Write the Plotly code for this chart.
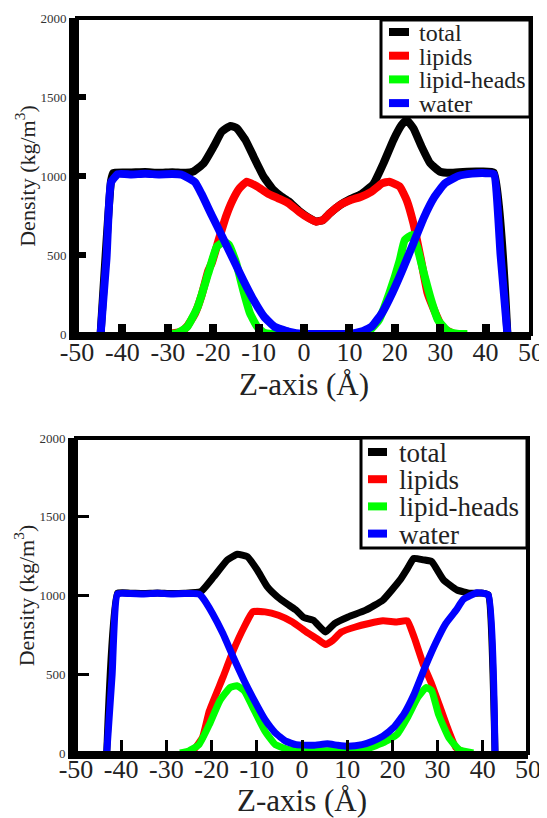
import plotly.graph_objects as go

# ---------------- data (top panel) ----------------
z_tot_top = [-44.8, -42.5, -42, -38, -35, -32, -29, -26, -24.3, -22.1, -19.9, -18.1, -16.2, -14.8, -12.9,
             -11.1, -8.9, -6.7, -5, -3.4, -1.1, 1.1, 2.7, 4.2, 5.7, 8, 10.3, 12.6, 15.3, 17.5, 19.7, 21.5,
             22.6, 24.1, 25.9, 27.8, 30, 32.2, 35, 38, 41.8, 44.8]
tot_top = [0, 970, 1020, 1022, 1025, 1020, 1024, 1020, 1030, 1080, 1186, 1281, 1317, 1302, 1228,
           1122, 996, 911, 870, 840, 780, 735, 712, 722, 764, 817, 855, 885, 950, 1080, 1228, 1323,
           1355, 1302, 1186, 1080, 1027, 1020, 1025, 1028, 1022, 0]

z_lip_top = [-30, -27, -25.7, -24, -22.6, -21.1, -20.3, -18.8, -17.2, -15.7, -14.2, -12.6, -10.3, -8, -5.7,
             -3.4, -1.1, 1.1, 2.7, 4.2, 5.7, 8, 10.3, 12.6, 14.9, 17.2, 18.8, 21.1, 22.6, 24.1, 25.7, 27.2,
             28.7, 30.5, 33]
lip_top = [0, 15, 50, 130, 240, 400, 450, 595, 743, 848, 922, 964, 933, 890, 859,
           827, 774, 732, 711, 722, 764, 817, 848, 869, 901, 954, 964, 933, 848, 700, 480, 260,
           150, 40, 0]

z_head_top = [-30, -28, -25.7, -23.4, -21.1, -19.2, -17.6, -16.5, -14.9, -13.4, -11.9, -10.3, -8.8, -7,
              -4, 12, 14.2, 16.5, 18.8, 21.1, 22.2, 23.8, 24.9, 26.4, 28, 29.5, 31.8, 34.1, 36]
head_top = [0, 4, 46, 173, 384, 553, 584, 563, 447, 279, 131, 46, 8, 0,
            0, 0, 15, 89, 257, 468, 595, 627, 553, 384, 215, 89, 15, 0, 0]

z_wat_top = [-44.8, -43.5, -42.5, -41, -38, -35, -32, -29, -27, -25.7, -24, -22.6, -20.3, -18, -15.7,
             -13.4, -11.1, -8.8, -6.5, -3.4, 0, 5, 10, 12.6, 14.9, 17.2, 19.5, 21.8, 24.1, 26.4, 28.7,
             31, 34, 37, 40, 41.8, 43.3, 44.8]
wat_top = [0, 480, 960, 1012, 1010, 1014, 1010, 1012, 1008, 990, 960, 888, 750, 616, 479,
           342, 215, 110, 46, 15, 0, 0, 0, 15, 47, 134, 263, 414, 575, 737, 866,
           952, 1000, 1015, 1018, 1012, 500, 0]

# ---------------- data (bottom panel) ----------------
z_tot_bot = [-43.2, -40.8, -38, -35, -32, -29, -26, -22.4, -19.5, -16.5, -14.3, -12.1, -9.9, -7.7, -5.5,
             -3, -1.3, 0.4, 2.5, 5.2, 7.2, 10.2, 14.1, 17.9, 21.7, 23.5, 24.7, 26.9, 28.7, 31.3, 34.3,
             37.2, 40, 41.2, 42.7]
tot_bot = [0, 1015, 1015, 1013, 1016, 1012, 1014, 1024, 1120, 1226, 1262, 1247, 1162, 1056, 993,
           940, 907, 860, 843, 768, 822, 864, 907, 971, 1099, 1180, 1236, 1226, 1215, 1099, 1035,
           1014, 1015, 1005, 0]

z_lip_bot = [-26, -24, -22, -20.5, -17.5, -15.2, -12.8, -10.9, -8.2, -5.2, -2.1, 1.0, 3.3, 5.2, 6.8,
             8.7, 11.8, 14.8, 17.9, 21.0, 23.3, 24.8, 26.8, 28.7, 30.6, 32.2, 34.1, 36.4]
lip_bot = [0, 20, 100, 267, 480, 651, 800, 896, 896, 875, 832, 768, 726, 689, 715,
           768, 800, 822, 839, 832, 839, 736, 565, 437, 288, 160, 32, 0]

z_head_bot = [-27, -25.2, -22.8, -20.5, -18.2, -15.9, -14.4, -12.8, -10.5, -8.2, -5.9, -2.8, 2.5, 10.2,
              14.8, 17.9, 21, 23.3, 25.6, 27.5, 28.7, 30.2, 32.5, 34.8, 37.9]
head_bot = [0, 11, 53, 181, 331, 416, 427, 395, 267, 139, 53, 21, 15, 21,
            32, 64, 117, 224, 352, 416, 395, 245, 96, 21, 0]

z_wat_bot = [-43.2, -42, -40.8, -38, -35, -32, -29, -26, -22.8, -22.1, -19.8, -17.5, -15.2, -12.8, -10.5,
             -8.2, -5.9, -3.6, -1.3, 2.5, 5.6, 7.9, 10.2, 13.3, 15.6, 17.9, 20.2, 22.5, 24.8, 27.2,
             29.5, 31.8, 34.1, 35.7, 38.7, 41.2, 42.7]
wat_bot = [0, 500, 1010, 1012, 1010, 1014, 1010, 1012, 1010, 990, 886, 758, 608, 459, 331,
           213, 128, 75, 53, 49, 58, 49, 43, 53, 75, 107, 160, 245, 373, 544,
           694, 822, 907, 975, 1018, 1003, 0]

names = ["total", "lipids", "lipid-heads", "water"]
colors = ["#000000", "#ff0000", "#00ff00", "#0000ff"]

x_ticks = list(range(-50, 51, 10))
y_ticks = [0, 500, 1000, 1500, 2000]

FONT = "Liberation Serif, Times New Roman, Times, serif"
# the page body has an 8px margin, so the figure is drawn 8px in from the window edges
OFF = 8
W, H = 547 - OFF, 818 - OFF

fig = go.Figure()

panels = [
    dict(xa="x", ya="y", lw=8,
         series=[(z_tot_top, tot_top), (z_lip_top, lip_top), (z_head_top, head_top), (z_wat_top, wat_top)],
         box=(381, 530, 20, 117), sym=(389, 409), tx=417, ry=32, step=23.7, fs=24),
    dict(xa="x2", ya="y2", lw=7,
         series=[(z_tot_bot, tot_bot), (z_lip_bot, lip_bot), (z_head_bot, head_bot), (z_wat_bot, wat_bot)],
         box=(361, 527, 438, 548), sym=(368, 387), tx=397, ry=452, step=27.2, fs=27),
]

for p in panels:
    for (zz, vv), nm, col in zip(p["series"], names, colors):
        fig.add_trace(go.Scatter(x=zz, y=vv, mode="lines", name=nm, showlegend=False,
                                 line=dict(color=col, width=p["lw"], shape="spline", smoothing=0.4),
                                 xaxis=p["xa"], yaxis=p["ya"]))

def px_x(v):  # screen pixel -> paper fraction
    return (v - OFF) / W

def px_y(v):
    return 1 - (v - OFF) / H

shapes = []
annotations = []
for p in panels:
    xa, ya = p["xa"], p["ya"]
    shapes.append(dict(type="rect", xref=f"{xa} domain", yref=f"{ya} domain", x0=0, x1=1, y0=0, y1=1,
                       line=dict(color="black", width=4), layer="above"))
    l, r, t, b = p["box"]
    shapes.append(dict(type="rect", xref="paper", yref="paper", x0=px_x(l), x1=px_x(r),
                       y0=px_y(b), y1=px_y(t), fillcolor="white",
                       line=dict(color="black", width=3), layer="above"))
    for i, (nm, col) in enumerate(zip(names, colors)):
        yy = p["ry"] + i * p["step"]
        shapes.append(dict(type="line", xref="paper", yref="paper", x0=px_x(p["sym"][0]), x1=px_x(p["sym"][1]),
                           y0=px_y(yy), y1=px_y(yy), line=dict(color=col, width=8), layer="above"))
        annotations.append(dict(xref="paper", yref="paper", x=px_x(p["tx"]), y=px_y(yy + 1),
                                xanchor="left", yanchor="middle", showarrow=False, text=nm,
                                font=dict(family=FONT, size=p["fs"], color="#222")))

def xaxis(domain, anchor, tw, tl, lso, st):
    return dict(domain=domain, anchor=anchor, range=[-50, 50], tickvals=x_ticks,
                ticktext=[str(v) for v in x_ticks], ticks="inside", ticklen=tl, tickwidth=tw,
                tickcolor="black", showline=True, linecolor="black", linewidth=6,
                showgrid=False, zeroline=False, automargin=False, ticklabelstandoff=lso,
                tickfont=dict(family=FONT, size=26, color="#222"),
                title=dict(text="Z-axis (Å)", font=dict(family=FONT, size=31, color="#222"), standoff=st))

def yaxis(domain, anchor, tw, tl):
    return dict(domain=domain, anchor=anchor, range=[0, 2000], tickvals=y_ticks,
                ticktext=[str(v) for v in y_ticks], ticks="inside", ticklen=tl, tickwidth=tw,
                tickcolor="black", showline=True, linecolor="black", linewidth=8,
                showgrid=False, zeroline=False, automargin=False,
                tickfont=dict(family=FONT, size=13, color="#333"),
                title=dict(text="Density (kg/m<sup>3</sup>)", font=dict(family=FONT, size=22, color="#222"),
                           standoff=2))

top_x = [px_x(77), px_x(531)]
top_y = [px_y(334), px_y(18)]
bot_x = [px_x(76), px_x(528)]
bot_y = [px_y(753), px_y(438)]

fig.update_layout(
    width=W, height=H,
    margin=dict(l=0, r=0, t=0, b=0, autoexpand=False),
    paper_bgcolor="white", plot_bgcolor="white",
    showlegend=False,
    xaxis=xaxis(top_x, "y", 8, 10, -10, 3),
    yaxis=yaxis(top_y, "x", 6, 9),
    xaxis2=xaxis(bot_x, "y2", 3, 13, -12, 6),
    yaxis2=yaxis(bot_y, "x2", 3, 13),
    shapes=shapes,
    annotations=annotations,
)

fig.write_html("out.html")
